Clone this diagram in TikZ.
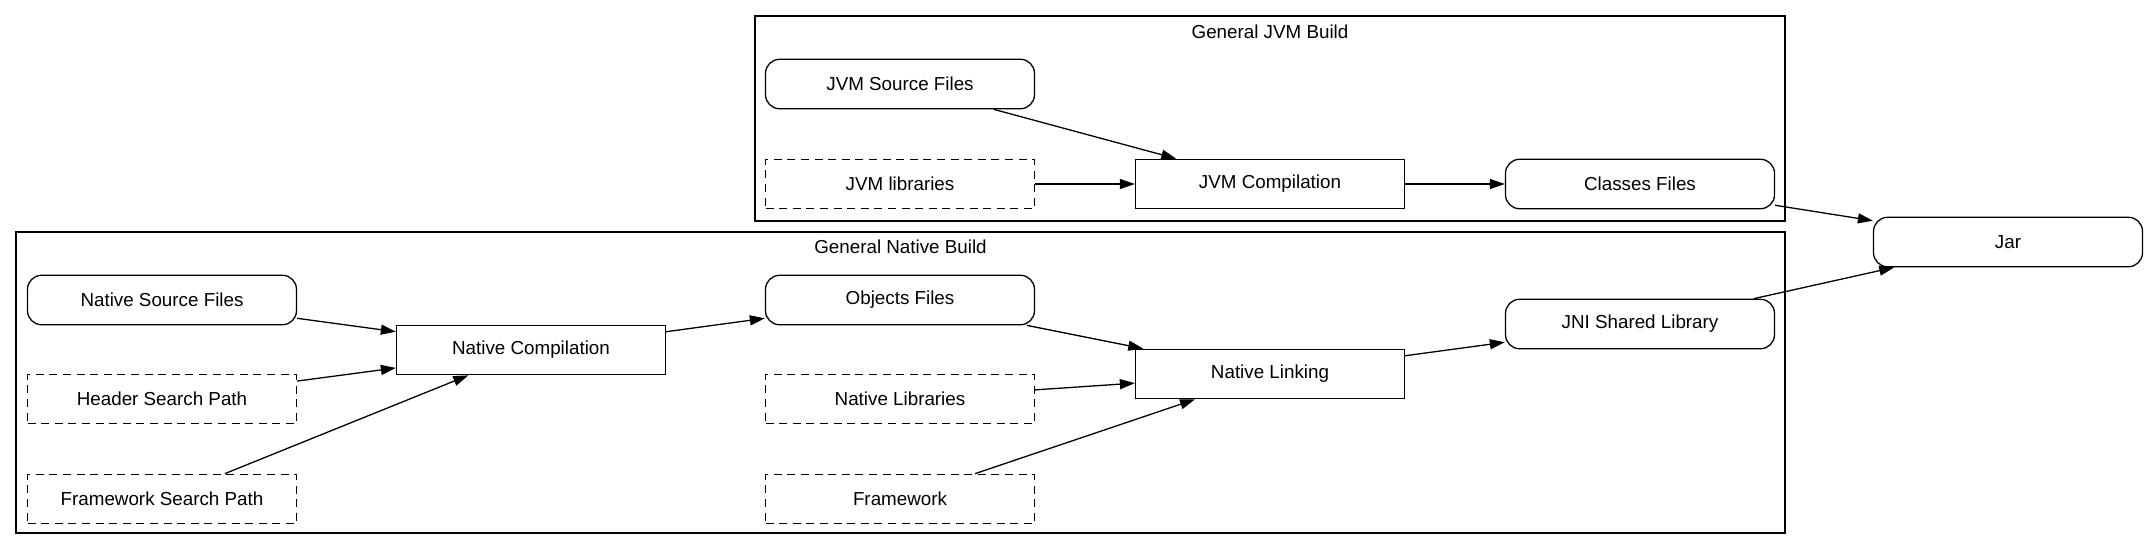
\documentclass[tikz,border=0pt]{standalone}
\usepackage{fontspec}
\setmainfont{Liberation Sans}
\usetikzlibrary{arrows.meta}
\begin{document}
\begin{tikzpicture}[x=0.5pt,y=-0.5pt,
  every node/.style={font=\fontsize{9.4pt}{11pt}\selectfont},
  base/.style={draw, line width=0.65pt, minimum width=134.5pt, minimum height=24.7pt, inner sep=0pt},
  roundbox/.style={base, rounded corners=7pt},
  procbox/.style={base},
  dashbox/.style={base, dash pattern=on 4pt off 2.8pt},
  cluster/.style={draw, line width=0.65pt, inner sep=0pt},
  ctitle/.style={inner sep=0pt},
  edge/.style={line width=0.65pt, -{Triangle[length=7.5pt,width=5pt]}}
]
\useasboundingbox (0,0) rectangle (2150,553);
% clusters
\node[cluster, minimum width=515pt, minimum height=102.5pt] (jvmcluster) at (1270,118.5) {};
\node[ctitle] (jvmtitle) at (1270,32) {General JVM Build};
\node[cluster, minimum width=884.5pt, minimum height=150.5pt] (nativecluster) at (900.5,382.5) {};
\node[ctitle] (nativetitle) at (900.5,247) {General Native Build};
% JVM nodes
\node[roundbox] (jsrc) at (900,84) {JVM Source Files};
\node[dashbox] (jlib) at (900,184) {JVM libraries};
\node[procbox] (jcomp) at (1270,184) {JVM Compilation};
\node[roundbox] (classes) at (1640,184) {Classes Files};
\node[roundbox] (jar) at (2008,242) {Jar};
% native nodes
\node[roundbox] (nsrc) at (162,300) {Native Source Files};
\node[dashbox] (hsp) at (162,399) {Header Search Path};
\node[dashbox] (fsp) at (162,499) {Framework Search Path};
\node[procbox] (ncomp) at (531,350) {Native Compilation};
\node[roundbox] (objs) at (900,300) {Objects Files};
\node[dashbox] (nlib) at (900,399) {Native Libraries};
\node[dashbox] (fw) at (900,499) {Framework};
\node[procbox] (nlink) at (1270,374) {Native Linking};
\node[roundbox] (jni) at (1640,324) {JNI Shared Library};
% edges
\draw[edge] (jsrc) -- (jcomp);
\draw[edge] (jlib) -- (jcomp);
\draw[edge] (jcomp) -- (classes);
\draw[edge] (classes) -- (jar);
\draw[edge] (nsrc) -- (ncomp);
\draw[edge] (hsp) -- (ncomp);
\draw[edge] (fsp) -- (ncomp);
\draw[edge] (ncomp) -- (objs);
\draw[edge] (objs) -- (nlink);
\draw[edge] (nlib) -- (nlink);
\draw[edge] (fw) -- (nlink);
\draw[edge] (nlink) -- (jni);
\draw[edge] (jni) -- (jar);
\end{tikzpicture}
\end{document}
